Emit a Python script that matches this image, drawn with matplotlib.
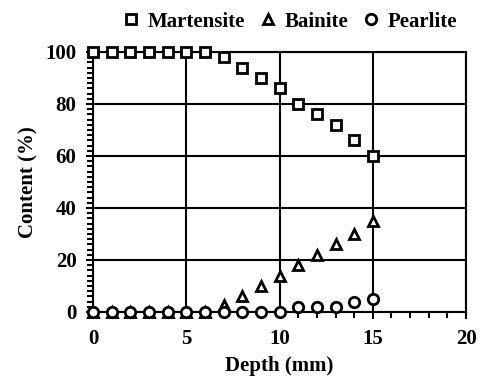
import matplotlib.pyplot as plt
import numpy as np
from matplotlib.ticker import MultipleLocator

depth = np.arange(0, 16)
martensite = [100, 100, 100, 100, 100, 100, 100, 98, 94, 90, 86, 80, 76, 72, 66, 60]
bainite = [0, 0, 0, 0, 0, 0, 0, 2.5, 6, 10, 14, 18, 22, 26, 30, 35]
pearlite = [0, 0, 0, 0, 0, 0, 0, 0, 0, 0, 0, 2, 2, 2, 4, 5]

plt.rcParams["font.family"] = "Liberation Serif"
plt.rcParams["font.weight"] = "bold"
plt.rcParams["font.size"] = 15

fig = plt.figure(figsize=(4.85, 3.79), dpi=100)
ax = fig.add_axes([0.192, 0.177, 0.769, 0.686])

mk = dict(linestyle="none", markerfacecolor="white", markeredgecolor="black",
          markeredgewidth=2.0, markersize=7.5, clip_on=False, zorder=5)
ax.plot(depth, martensite, marker="s", label="Martensite", **mk)
ax.plot(depth, bainite, marker="^", label="Bainite", **mk)
ax.plot(depth, pearlite, marker="o", label="Pearlite", **mk)

ax.set_xlim(0, 20)
ax.set_ylim(0, 100)
ax.xaxis.set_major_locator(MultipleLocator(5))
ax.xaxis.set_minor_locator(MultipleLocator(1))
ax.yaxis.set_major_locator(MultipleLocator(20))
ax.yaxis.set_minor_locator(MultipleLocator(2))
ax.grid(True, which="major", color="black", linewidth=1.5)
ax.tick_params(which="both", direction="out", width=1.5, colors="black")
ax.tick_params(which="major", length=5, pad=7)
ax.tick_params(which="minor", length=4)
for s in ax.spines.values():
    s.set_linewidth(1.5)

ax.set_xlabel("Depth (mm)", fontweight="bold", labelpad=5)
ax.set_ylabel("Content (%)", fontweight="bold", labelpad=5)

ax.legend(loc="lower center", bbox_to_anchor=(0.525, 1.03), ncol=3, frameon=False,
          handletextpad=0.3, columnspacing=0.6, handlelength=1.0,
          borderaxespad=0.2)

fig.savefig("out.png", dpi=100)
